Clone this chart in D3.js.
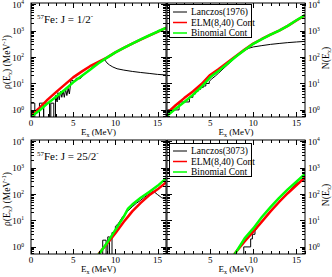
<!DOCTYPE html>
<html>
	<head>
		<meta charset="utf-8">
		<style type="text/css">
			body { margin: 0; background: #fff; }
			svg { display: block; font-family: "Liberation Serif", "DejaVu Serif", serif; }
		</style>
		<title>57Fe level densities</title>
	</head>
	<body>
		<script src="https://d3js.org/d3.v7.min.js"></script>
		<script>

/* ---------- data ---------- */

// smooth curves, energy grid in MeV
var gridE = [0, 1, 2, 3, 4, 5, 6, 7, 8, 9, 10, 11, 12, 13, 14, 15, 16];

// J = 1/2-  density rho(E)
var rhoHalfElm = [0.62, 1.2, 2.5, 4.8, 9, 17, 28, 45, 66, 95, 150, 220, 320, 450, 640, 900, 1250];
var rhoHalfBin = [0.55, 0.95, 1.8, 3.2, 5.8, 11, 19, 33, 58, 95, 150, 220, 320, 460, 650, 920, 1270];
var rhoHalfLanczos = [
	[0, 1.8], [0.45, 1.8], [0.45, 0.01], [1.0, 0.01], [1.0, 1.8], [1.5, 1.8], [1.5, 0.01], [1.5, 1.8],
	[2.2, 1.8], [2.2, 0.01], [2.35, 0.01], [2.35, 1.8], [2.7, 1.8], [2.7, 0.01], [2.9, 0.01], [2.9, 3.5],
	[3.1, 2], [3.2, 4.5], [3.35, 2.4], [3.5, 5], [3.65, 3], [3.8, 5.5], [3.95, 3], [4.1, 6], [4.25, 3.5],
	[4.4, 6.5], [4.55, 4], [4.75, 14], [5.1, 12], [5.4, 16], [5.8, 15], [6.2, 20], [6.6, 27], [7.0, 35],
	[7.4, 45], [7.8, 56], [8.2, 68], [8.65, 85], [8.85, 70], [9.0, 60], [9.3, 50], [9.7, 42], [10.2, 36],
	[11, 32], [12, 28.5], [13, 26], [14, 24], [15, 22], [16, 21]
];

// J = 1/2-  cumulative N(E)
var cumHalfElm = [0.75, 1.5, 2.8, 5, 9.5, 21, 35, 62, 110, 190, 320, 480, 700, 1000, 1500, 2400, 3800];
var cumHalfBin = [0.6, 1.1, 2.0, 3.7, 7.5, 17, 30, 56, 105, 185, 315, 475, 700, 1000, 1500, 2450, 3850];
var cumHalfLanczos = [
	[0.05, 1], [1.4, 1], [1.4, 2], [2.6, 2], [2.6, 3], [3.0, 3], [3.0, 4], [3.3, 4], [3.3, 5],
	[3.6, 5], [3.6, 6], [3.9, 6], [3.9, 7], [4.2, 7], [4.2, 8], [4.5, 8], [4.5, 10], [4.9, 10],
	[4.9, 12], [5.2, 15], [5.6, 19], [6, 25], [7, 50], [8, 100], [9, 180], [9.5, 215], [10, 240],
	[11, 270], [12, 300], [13, 325], [14, 350], [15, 370], [16, 390]
];

// J = 25/2-  density rho(E)
var highE = [8, 9, 10, 11, 11.5, 12, 13, 14, 15, 16];
var rhoHighElm = [0.54, 1.3, 3.3, 9, 14, 22, 46, 89, 150, 275];
var rhoHighBin = [0.5, 1.4, 4.4, 14, 28, 40, 72, 120, 204, 390];
var rhoHighLanczos = [
	[8.5, 0.01], [8.5, 1.8], [8.9, 1.8], [8.9, 0.01], [9.1, 0.01], [9.1, 2.4], [9.3, 2.4], [9.3, 0.01],
	[9.6, 0.01], [9.6, 3.5], [10.0, 3.5], [10.0, 6], [10.4, 8], [10.8, 13], [11.2, 18], [11.6, 25],
	[12, 33], [12.5, 45], [13, 58], [13.5, 78], [14, 100], [14.5, 128], [15, 95], [15.5, 72], [16, 64]
];

// J = 25/2-  cumulative N(E)
var cumHighE = [7.8, 9, 10, 11, 12, 13, 14, 15, 16];
var cumHighElm = [0.54, 1.6, 3.8, 9, 22, 50, 107, 215, 425];
var cumHighBin = [0.5, 2.1, 5, 13.5, 32, 72, 150, 290, 570];
var cumHighLanczos = [
	[8.9, 0.01], [8.9, 1], [9.7, 1], [9.7, 2], [9.9, 2], [9.9, 3], [10.2, 3], [10.2, 4], [10.5, 5.5],
	[11, 9], [11.5, 14], [12, 22], [12.5, 33], [13, 50], [13.5, 75], [14, 110], [14.5, 170],
	[15, 250], [15.5, 300], [16, 350]
];

var legendTop = ["Lanczos(1976)", "ELM(8,40) Cont", "Binomial Cont"];
var legendBottom = ["Lanczos(3073)", "ELM(8,40) Cont", "Binomial Cont"];
var xTicks = [0, 5, 10, 15];
var yTicks = [1, 10, 100, 1000, 10000];

/* ---------- layout ---------- */

var W = 332, H = 277;
var svg = d3.select("body").append("svg")
	.attr("width", W)
	.attr("height", H);

var xLeft = d3.scaleLinear().domain([0, 16]).range([31, 166]);
var xRight = d3.scaleLinear().domain([0, 16]).range([167, 305]);
var yTop = d3.scaleLog().domain([0.54, 11000]).range([117, 3]);
var yBot = d3.scaleLog().domain([0.54, 11000]).range([254, 140]);

function zip(xs, ys) {
	return xs.map(function(e, i) { return [e, ys[i]]; });
}

var clipId = 0;

function panel(x, y, side, series) {
	var x0 = x.range()[0], x1 = x.range()[1];
	var yb = y.range()[0], yt = y.range()[1];
	var g = svg.append("g");

	/* curves */
	clipId++;
	svg.append("clipPath").attr("id", "c" + clipId)
		.append("rect").attr("x", x0).attr("y", yt).attr("width", x1 - x0).attr("height", yb - yt);

	var line = d3.line()
		.x(function(d) { return x(d[0]); })
		.y(function(d) { return y(Math.max(d[1], 0.01)); });

	var plot = g.append("g").attr("clip-path", "url(#c" + clipId + ")");
	series.forEach(function(s) {
		plot.append("path")
			.attr("d", line(s.data))
			.attr("fill", "none")
			.attr("stroke", s.color)
			.attr("stroke-width", s.width)
			.attr("stroke-linejoin", "round");
	});

	/* frame */
	g.append("rect")
		.attr("x", x0).attr("y", yt)
		.attr("width", x1 - x0).attr("height", yb - yt)
		.attr("fill", "none").attr("stroke", "#000").attr("stroke-width", 1);

	/* x ticks, inward on bottom and top */
	for (var e = 0; e <= 16; e++) {
		var len = (e % 5 === 0) ? 5 : 3;
		var px = Math.round(x(e)) + 0.5;
		g.append("line").attr("x1", px).attr("x2", px).attr("y1", yb).attr("y2", yb - len).attr("stroke", "#000");
		g.append("line").attr("x1", px).attr("x2", px).attr("y1", yt).attr("y2", yt + len).attr("stroke", "#000");
	}
	g.selectAll(".xl")
		.data(side === "left" ? xTicks : xTicks.slice(1))
		.enter().append("text")
		.attr("x", function(d) { return x(d); })
		.attr("y", yb + 9)
		.attr("text-anchor", "middle")
		.style("font-size", "9px")
		.text(function(d) { return d; });

	var xt = g.append("text")
		.attr("x", (x0 + x1) / 2)
		.attr("y", yb + 17.5)
		.attr("text-anchor", "middle")
		.style("font-size", "9px");
	xt.append("tspan").text("E");
	xt.append("tspan").attr("dy", 2).style("font-size", "6px").text("x");
	xt.append("tspan").attr("dy", -2).text(" (MeV)");

	/* y ticks, inward on both sides */
	for (var p = -1; p <= 4; p++) {
		for (var m = 1; m <= 9; m++) {
			var v = m * Math.pow(10, p);
			if (v < 0.54 || v > 11000) continue;
			var py = Math.round(y(v)) + 0.5;
			var l = (m === 1) ? 5 : 3;
			g.append("line").attr("x1", x0).attr("x2", x0 + l).attr("y1", py).attr("y2", py).attr("stroke", "#000");
			g.append("line").attr("x1", x1).attr("x2", x1 - l).attr("y1", py).attr("y2", py).attr("stroke", "#000");
		}
	}
	yTicks.forEach(function(v, i) {
		var t = g.append("text")
			.attr("y", y(v) + 3.5)
			.style("font-size", "9px");
		if (side === "left") {
			t.attr("x", 24).attr("text-anchor", "end");
		} else {
			t.attr("x", x1 + 3);
		}
		t.append("tspan").text("10");
		t.append("tspan").attr("dy", -3.5).style("font-size", "5.5px").text(i);
	});
	return g;
}

function legend(x0, y0, labels) {
	var colors = ["#000", "#ff0000", "#00ff00"];
	var g = svg.append("g");
	g.append("rect")
		.attr("x", x0 + 0.5).attr("y", y0 + 0.5)
		.attr("width", 82).attr("height", 33)
		.attr("fill", "#fff").attr("stroke", "#000");
	labels.forEach(function(d, i) {
		var cy = y0 + 8 + i * 10.5;
		g.append("line")
			.attr("x1", x0 + 4).attr("x2", x0 + 18)
			.attr("y1", cy).attr("y2", cy)
			.attr("stroke", colors[i]).attr("stroke-width", i === 0 ? 1 : 1.5);
		g.append("text")
			.attr("x", x0 + 22).attr("y", cy + 3.3)
			.style("font-size", "9.5px")
			.text(d);
	});
}

function yTitles(cy) {
	var t = svg.append("text")
		.attr("transform", "translate(10," + cy + ") rotate(-90)")
		.attr("text-anchor", "middle")
		.style("font-size", "9.5px");
	t.append("tspan").text("\u03c1(E");
	t.append("tspan").attr("dy", 2).style("font-size", "6.5px").text("x");
	t.append("tspan").attr("dy", -2).text(") (MeV");
	t.append("tspan").attr("dy", -4).style("font-size", "6.5px").text("-1");
	t.append("tspan").attr("dy", 4).text(")");

	var n = svg.append("text")
		.attr("transform", "translate(329," + (cy - 4) + ") rotate(-90)")
		.attr("text-anchor", "middle")
		.style("font-size", "9.5px");
	n.append("tspan").text("N(E");
	n.append("tspan").attr("dy", 2).style("font-size", "6.5px").text("x");
	n.append("tspan").attr("dy", -2).text(")");
}

function title(y0, jText) {
	var t = svg.append("text")
		.attr("x", 37).attr("y", y0)
		.style("font-size", "11px");
	t.append("tspan").attr("dy", -4).style("font-size", "7px").text("57");
	t.append("tspan").attr("dy", 4).text("Fe: J = " + jText);
	t.append("tspan").attr("dy", -5).style("font-size", "7px").text("-");
}

/* ---------- panels ---------- */

var black = "#000", red = "#ff0000", green = "#00ff00";

panel(xLeft, yTop, "left", [
	{ data: rhoHalfLanczos, color: black, width: 1 },
	{ data: zip(gridE, rhoHalfElm), color: red, width: 2.5 },
	{ data: zip(gridE, rhoHalfBin), color: green, width: 2.5 }
]);
panel(xRight, yTop, "right", [
	{ data: cumHalfLanczos, color: black, width: 1 },
	{ data: zip(gridE, cumHalfElm), color: red, width: 2.5 },
	{ data: zip(gridE, cumHalfBin), color: green, width: 2.5 }
]);
panel(xLeft, yBot, "left", [
	{ data: rhoHighLanczos, color: black, width: 1 },
	{ data: zip(highE, rhoHighElm), color: red, width: 2.5 },
	{ data: zip(highE, rhoHighBin), color: green, width: 2.5 }
]);
panel(xRight, yBot, "right", [
	{ data: cumHighLanczos, color: black, width: 1 },
	{ data: zip(cumHighE, cumHighElm), color: red, width: 2.5 },
	{ data: zip(cumHighE, cumHighBin), color: green, width: 2.5 }
]);

legend(169, 4, legendTop);
legend(169, 143, legendBottom);
yTitles(62);
yTitles(199);
title(23, "1/2");
title(160, "25/2");

		</script>
	</body>
</html>
